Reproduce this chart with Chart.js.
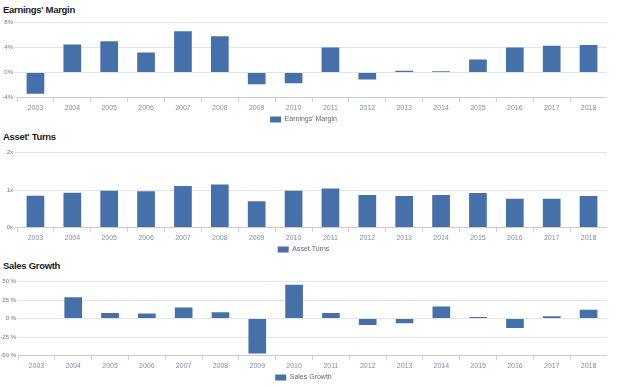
<!DOCTYPE html>
<html><head><meta charset="utf-8">
<script src="https://cdn.jsdelivr.net/npm/chart.js@4.4.0/dist/chart.umd.min.js"></script>
<style>
html,body{margin:0;padding:0;background:#fff;width:624px;height:387px;overflow:hidden;}
.title{position:absolute;left:3px;font-family:"Liberation Sans",Arial,sans-serif;font-weight:bold;font-size:9.5px;color:#222;letter-spacing:-0.3px;}
.wrap{position:absolute;left:0;width:607px;}
</style></head><body>
<div class="title" style="top:4px">Earnings' Margin</div>
<div class="title" style="top:131px">Asset' Turns</div>
<div class="title" style="top:260px">Sales Growth</div>
<div class="wrap" style="top:18px;height:115px"><canvas id="c1"></canvas></div>
<div class="wrap" style="top:148px;height:115px"><canvas id="c2"></canvas></div>
<div class="wrap" style="top:277px;height:114px"><canvas id="c3"></canvas></div>
<script>
const years = ["2003","2004","2005","2006","2007","2008","2009","2010","2011","2012","2013","2014","2015","2016","2017","2018"];
const earningsMargin = [-3.4,4.5,5.0,3.2,6.6,5.8,-1.85,-1.7,4.0,-1.1,0.3,0.2,2.1,4.0,4.3,4.4];
const assetTurns = [0.85,0.93,0.98,0.97,1.11,1.15,0.70,0.98,1.04,0.87,0.84,0.87,0.92,0.77,0.77,0.84];
const salesGrowth = [null,28.7,7.7,7.0,15.0,8.6,-47.0,45.9,7.7,-8.7,-6.4,16.4,2.2,-12.8,3.2,11.8];
const marginTicks = {"8":"8%","4":"4%","0":"0%","-4":"-4%"};
const turnsTicks = {"2":"2x","1":"1x","0":"0x"};
const growthTicks = {"50":"50 %","25":"25 %","0":"0 %","-25":"-25 %","-50":"-50 %"};

const BAR = '#4670aa';
function make(id, label, data, min, max, step, tickMap, yw, tl){
  new Chart(document.getElementById(id), {
    type:'bar',
    data:{labels:years, datasets:[{label:label, data:data, backgroundColor:BAR, borderWidth:0, minBarLength:1, categoryPercentage:0.48, barPercentage:1}]},
    options:{
      responsive:true, maintainAspectRatio:false, animation:false,
      layout:{padding:{top:2,right:0,left:0,bottom:0}},
      plugins:{
        legend:{position:'bottom', labels:{boxWidth:11,boxHeight:6,font:{size:7,family:'Liberation Sans'},color:'#666',padding:2}},
        tooltip:{enabled:false}
      },
      scales:{
        x:{grid:{display:true,drawOnChartArea:false,drawTicks:true,tickLength:4,color:'#ccc'},
           border:{display:true,color:'#ccc'},
           ticks:{font:{size:7,family:'Liberation Sans'},color:'#8090a8',padding:2,maxRotation:0}},
        y:{min:min,max:max,
           afterFit:(a)=>{a.width=yw;},
           grid:{color:'#e3e3e3',drawTicks:true,tickLength:tl},
           border:{display:false},
           ticks:{stepSize:step,font:{size:6,family:'Liberation Sans'},color:'#777',padding:1,
             callback:(v)=>tickMap[String(v)]}}
      }
    }
  });
}
make('c1',"Earnings' Margin",earningsMargin,-4,8,4,marginTicks,17,3);
make('c2',"Asset Turns",assetTurns,0,2,1,turnsTicks,17,3);
make('c3',"Sales Growth",salesGrowth,-50,50,25,growthTicks,18,1);
</script>
</body></html>
